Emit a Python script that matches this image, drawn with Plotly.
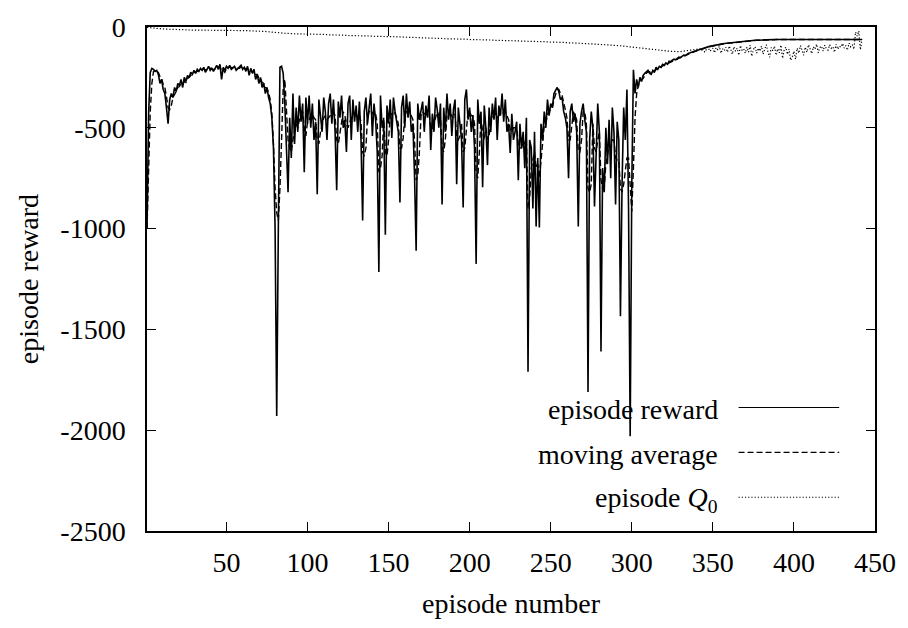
import plotly.graph_objects as go

# ---- data ----
reward = [
    -1000, -430, -225, -205, -210, -220, -215, -235, -280, -260,   # 1-10
    -310, -330, -400, -480, -360, -330, -350, -300, -320, -280,    # 11-20
    -290, -260, -300, -250, -270, -240, -250, -225, -235, -215,    # 21-30
    -230, -210, -220, -205, -215, -200, -225, -210, -195, -215,    # 31-40
    -205, -220, -200, -190, -210, -185, -260, -200, -215, -195,    # 41-50
    -205, -190, -210, -200, -195, -215, -205, -200, -190, -210,    # 51-60
    -200, -220, -195, -240, -205, -230, -210, -260, -235, -280,    # 61-70
    -250, -300, -280, -330, -300, -350, -380, -450, -600, -1000,   # 71-80
    -1930, -1000, -200, -195, -230, -380, -560, -820, -450, -650,  # 81-90
    -330, -580, -400, -520, -340, -470, -380, -720, -350, -480,    # 91-100
    -340, -500, -380, -560, -470, -830, -360, -440, -520, -350,    # 101-110
    -420, -560, -380, -330, -480, -360, -520, -810, -370, -450,    # 111-120
    -340, -500, -460, -620, -380, -340, -560, -360, -470, -390,    # 121-130
    -520, -370, -560, -960, -420, -350, -480, -400, -330, -540,    # 131-140
    -380, -460, -620, -1215, -340, -500, -460, -1030, -390, -480,  # 141-150
    -360, -550, -350, -420, -470, -520, -870, -400, -340, -500,    # 151-160
    -330, -450, -370, -520, -480, -735, -1110, -380, -460, -420,   # 161-170
    -370, -520, -390, -450, -340, -610, -430, -520, -350, -410,    # 171-180
    -500, -380, -880, -400, -520, -330, -460, -380, -540, -410,    # 181-190
    -360, -780, -400, -480, -560, -895, -360, -310, -460, -400,    # 191-200
    -520, -440, -600, -1175, -360, -480, -420, -795, -390, -500,   # 201-210
    -685, -400, -520, -380, -460, -350, -560, -390, -440, -330,    # 211-220
    -470, -360, -520, -480, -625, -430, -560, -520, -470, -760,    # 221-230
    -480, -600, -520, -700, -450, -1710, -560, -600, -900, -520,   # 231-240
    -990, -650, -995, -480, -560, -420, -500, -360, -440, -380,    # 241-250
    -400, -330, -310, -300, -320, -360, -350, -420, -450, -500,    # 251-260
    -750, -420, -380, -470, -430, -520, -990, -480, -420, -380,    # 261-270
    -460, -520, -1810, -560, -420, -500, -890, -600, -380, -520,   # 271-280
    -1610, -700, -820, -500, -680, -460, -750, -400, -520, -880,   # 281-290
    -470, -560, -1435, -780, -400, -560, -310, -900, -2030, -780,  # 291-300
    -212, -330, -260, -300, -250, -270, -240, -230, -220, -215,    # 301-310
    -230, -235, -215, -222, -200, -210, -195, -200, -185, -190,    # 311-320
    -178, -185, -170, -172, -165, -160, -163, -155, -150, -152,    # 321-330
    -145, -140, -142, -135, -130, -128, -125, -122, -118, -116,    # 331-340
    -113, -110, -108, -106, -103, -100, -98, -96, -94, -92,        # 341-350
    -90, -88, -87, -85, -84, -83, -82, -81, -80, -79,              # 351-360
    -78, -77, -76, -75, -74, -73, -72, -71, -70, -70,              # 361-370
    -69, -68, -68, -67, -67, -66, -66, -65, -65, -65,              # 371-380
    -64, -64, -64, -63, -63, -63, -63, -62, -62, -62,              # 381-390
    -62, -62, -62, -62, -62, -62, -62, -62, -62, -62,              # 391-400
    -62, -62, -62, -62, -62, -62, -62, -62, -62, -62,              # 401-410
    -62, -62, -62, -62, -62, -62, -62, -62, -62, -62,              # 411-420
    -62, -62, -62, -62, -62, -62, -62, -62, -62, -62,              # 421-430
    -62, -62, -62, -62, -62, -62, -62, -62, -62, -62,              # 431-440
    -62, -62,                                                      # 441-442
]

moving_average = [
    -1000, -700, -420, -280, -220, -215, -220, -225, -245, -255,   # 1-10
    -285, -300, -345, -400, -410, -390, -350, -330, -320, -300,    # 11-20
    -295, -280, -285, -270, -275, -255, -250, -240, -235, -225,    # 21-30
    -225, -220, -218, -212, -212, -207, -212, -212, -208, -205,    # 31-40
    -207, -212, -208, -203, -200, -195, -218, -215, -225, -205,    # 41-50
    -205, -198, -202, -200, -200, -205, -205, -205, -198, -200,    # 51-60
    -202, -210, -205, -220, -215, -225, -215, -235, -235, -255,    # 61-70
    -255, -275, -280, -300, -305, -325, -360, -430, -580, -800,    # 71-80
    -920, -960, -800, -560, -300, -260, -400, -560, -600, -620,    # 81-90
    -560, -520, -480, -500, -460, -450, -420, -500, -540, -470,    # 91-100
    -460, -440, -430, -450, -460, -560, -580, -520, -480, -450,    # 101-110
    -440, -460, -450, -440, -430, -420, -440, -560, -580, -520,    # 111-120
    -460, -420, -440, -480, -500, -470, -450, -440, -440, -430,    # 121-130
    -450, -440, -470, -620, -640, -600, -450, -420, -410, -430,    # 131-140
    -420, -430, -480, -720, -700, -640, -450, -620, -640, -560,    # 141-150
    -440, -430, -420, -430, -450, -480, -600, -600, -550, -440,    # 151-160
    -420, -420, -430, -440, -460, -560, -760, -740, -620, -440,    # 161-170
    -420, -430, -430, -440, -430, -500, -510, -480, -440, -420,    # 171-180
    -440, -450, -600, -620, -560, -440, -430, -430, -440, -450,    # 181-190
    -430, -550, -560, -540, -480, -620, -600, -520, -420, -420,    # 191-200
    -440, -440, -480, -720, -750, -620, -450, -520, -560, -500,    # 201-210
    -560, -540, -470, -450, -440, -430, -450, -440, -430, -420,    # 211-220
    -430, -420, -440, -460, -510, -520, -500, -500, -500, -580,    # 221-230
    -600, -600, -560, -580, -560, -900, -850, -700, -650, -620,    # 231-240
    -700, -680, -750, -650, -560, -490, -480, -430, -420, -410,    # 241-250
    -400, -360, -330, -310, -310, -330, -340, -370, -410, -450,    # 251-260
    -560, -560, -500, -420, -440, -460, -620, -620, -560, -420,    # 261-270
    -420, -480, -800, -820, -780, -480, -600, -620, -560, -520,    # 271-280
    -760, -800, -800, -680, -640, -570, -600, -560, -560, -650,    # 281-290
    -660, -660, -800, -820, -780, -700, -650, -650, -820, -915,    # 291-300
    -700, -450, -330, -290, -270, -265, -255, -240, -230, -222,    # 301-310
    -222, -230, -225, -220, -210, -208, -200, -200, -192, -190,    # 311-320
    -183, -183, -178, -175, -170, -165, -163, -160, -155, -153,    # 321-330
    -148, -144, -142, -138, -134, -130, -127, -124, -121, -118,    # 331-340
    -115, -112, -110, -108, -105, -102, -100, -98, -96, -94,       # 341-350
    -92, -90, -88, -87, -85, -84, -83, -82, -81, -80,              # 351-360
    -79, -78, -77, -76, -75, -74, -73, -72, -71, -71,              # 361-370
    -70, -69, -68, -68, -67, -67, -66, -66, -66, -65,              # 371-380
    -65, -64, -64, -64, -63, -63, -63, -63, -62, -62,              # 381-390
    -62, -62, -62, -62, -62, -62, -62, -62, -62, -62,              # 391-400
    -62, -62, -62, -62, -62, -62, -62, -62, -62, -62,              # 401-410
    -62, -62, -62, -62, -62, -62, -62, -62, -62, -62,              # 411-420
    -62, -62, -62, -62, -62, -62, -62, -62, -62, -62,              # 421-430
    -62, -62, -62, -62, -62, -62, -62, -62, -62, -62,              # 431-440
    -62, -62,                                                      # 441-442
]

episode_q0 = [
    -2, -3, -4, -5, -6, -7, -8, -8, -9, -9,                        # 1-10
    -10, -10, -11, -11, -11, -12, -12, -12, -13, -13,              # 11-20
    -13, -13, -14, -14, -14, -14, -15, -15, -15, -15,              # 21-30
    -15, -15, -16, -16, -16, -16, -16, -16, -16, -16,              # 31-40
    -16, -16, -16, -16, -16, -16, -16, -17, -17, -17,              # 41-50
    -17, -17, -17, -17, -17, -17, -17, -18, -18, -18,              # 51-60
    -18, -18, -18, -19, -19, -19, -19, -20, -20, -20,              # 61-70
    -21, -21, -22, -22, -23, -24, -25, -26, -27, -28,              # 71-80
    -29, -30, -30, -31, -31, -32, -32, -32, -33, -33,              # 81-90
    -33, -33, -34, -34, -34, -34, -35, -35, -35, -35,              # 91-100
    -35, -36, -36, -36, -36, -36, -37, -37, -37, -37,              # 101-110
    -38, -38, -38, -39, -39, -39, -40, -40, -40, -40,              # 111-120
    -41, -41, -41, -42, -42, -42, -42, -43, -43, -43,              # 121-130
    -43, -44, -44, -44, -44, -45, -45, -45, -45, -45,              # 131-140
    -46, -46, -46, -46, -46, -46, -47, -47, -47, -47,              # 141-150
    -48, -48, -48, -48, -49, -49, -49, -50, -50, -50,              # 151-160
    -50, -51, -51, -51, -52, -52, -52, -53, -53, -53,              # 161-170
    -54, -54, -54, -55, -55, -55, -56, -56, -56, -57,              # 171-180
    -57, -57, -57, -58, -58, -58, -58, -59, -59, -59,              # 181-190
    -59, -60, -60, -60, -60, -61, -61, -61, -61, -62,              # 191-200
    -62, -62, -62, -63, -63, -63, -63, -64, -64, -64,              # 201-210
    -64, -65, -65, -65, -65, -66, -66, -66, -66, -67,              # 211-220
    -67, -67, -67, -68, -68, -68, -68, -69, -69, -69,              # 221-230
    -69, -70, -70, -70, -70, -71, -71, -71, -71, -72,              # 231-240
    -72, -72, -72, -73, -73, -73, -73, -74, -74, -74,              # 241-250
    -75, -75, -75, -76, -76, -76, -77, -77, -77, -78,              # 251-260
    -78, -78, -79, -79, -80, -80, -80, -81, -81, -82,              # 261-270
    -82, -82, -83, -83, -84, -84, -85, -85, -86, -86,              # 271-280
    -87, -87, -88, -88, -89, -89, -90, -90, -91, -91,              # 281-290
    -92, -92, -93, -94, -95, -96, -97, -98, -99, -100,             # 291-300
    -101, -102, -103, -104, -105, -106, -107, -108, -109, -110,    # 301-310
    -111, -112, -113, -114, -115, -116, -117, -118, -118, -119,    # 311-320
    -119, -120, -120, -121, -121, -122, -122, -122, -122, -122,    # 321-330
    -121, -120, -119, -118, -117, -116, -115, -114, -113, -112,    # 331-340
    -112, -108, -118, -104, -125, -110, -98, -120, -115, -105,     # 341-350
    -128, -102, -112, -96, -130, -108, -118, -100, -125, -95,      # 351-360
    -110, -135, -98, -120, -105, -140, -92, -115, -108, -130,      # 361-370
    -100, -125, -90, -145, -112, -98, -130, -105, -120, -95,       # 371-380
    -135, -110, -88, -125, -150, -102, -118, -95, -140, -108,      # 381-390
    -128, -90, -155, -115, -100, -135, -110, -165, -148, -120,     # 391-400
    -160, -105, -130, -92, -118, -140, -100, -125, -88, -115,      # 401-410
    -132, -98, -110, -85, -128, -102, -95, -120, -90, -108,        # 411-420
    -115, -88, -105, -98, -125, -85, -110, -95, -100, -82,         # 421-430
    -105, -92, -115, -80, -98, -88, -110, -25, -45, -20,           # 431-440
    -113, -60,                                                     # 441-442
]

series_names = ["episode reward", "moving average", "episode <i>Q</i><sub>0</sub>"]
x_tick_values = [50, 100, 150, 200, 250, 300, 350, 400, 450]
y_tick_values = [0, -500, -1000, -1500, -2000, -2500]
y_tick_labels = ["0", "-500", "-1000", "-1500", "-2000", "-2500"]

FONT = "Liberation Serif"
FS = 28

styles = [
    dict(color="black", width=1.6, dash="solid"),
    dict(color="black", width=1.4, dash="6px,3px"),
    dict(color="black", width=1.2, dash="1.2px,2px"),
]

fig = go.Figure()
for vals, st, name in zip([reward, moving_average, episode_q0], styles, series_names):
    fig.add_trace(go.Scatter(
        x=list(range(1, len(vals) + 1)), y=vals, mode="lines",
        line=st, name=name, showlegend=False,
    ))

# custom gnuplot-style legend (text on left, line sample on right)
legend_rows_y = [0.241, 0.152, 0.063]
for name, st, yy in zip(series_names, styles, legend_rows_y):
    fig.add_annotation(
        x=0.787, y=yy, xref="paper", yref="paper", text=name,
        showarrow=False, xanchor="right", yanchor="middle",
        font=dict(family=FONT, size=FS, color="black"),
    )
    fig.add_shape(
        type="line", xref="paper", yref="paper",
        x0=0.8126, x1=0.9508, y0=yy + 0.004, y1=yy + 0.004,
        line=dict(color="black", width=1.2, dash=st["dash"]),
    )

axis_common = dict(
    showline=True, linecolor="black", linewidth=1.5, mirror="ticks",
    ticks="inside", ticklen=9, tickwidth=1, tickcolor="black",
    showgrid=False, zeroline=False,
    tickfont=dict(family=FONT, size=FS, color="black"),
)

fig.update_xaxes(
    range=[1, 450], tickvals=x_tick_values, ticklabelstandoff=6,
    title=dict(text="episode number", font=dict(family=FONT, size=FS, color="black"), standoff=16),
    **axis_common,
)
fig.update_yaxes(
    range=[-2500, 0], tickvals=y_tick_values, ticktext=y_tick_labels, ticklabelstandoff=14,
    title=dict(text="episode reward", font=dict(family=FONT, size=FS, color="black"), standoff=14),
    **axis_common,
)

fig.update_layout(
    width=908, height=628,
    margin=dict(l=147, r=30, t=20, b=97),
    paper_bgcolor="white", plot_bgcolor="white",
    font=dict(family=FONT, size=FS, color="black"),
    showlegend=False,
)

fig.write_html("out.html")
